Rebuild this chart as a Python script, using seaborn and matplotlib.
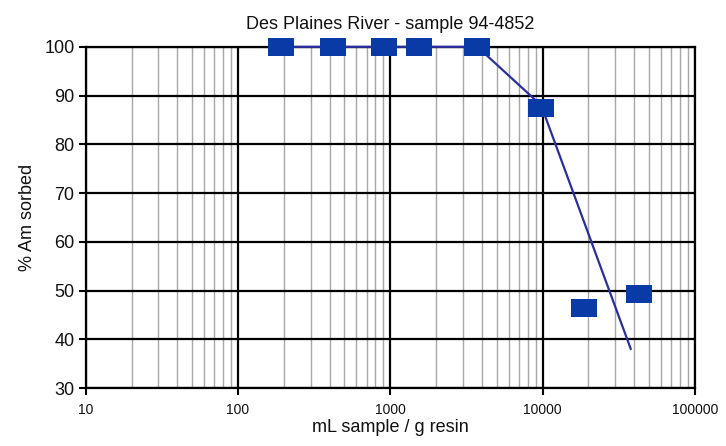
import matplotlib
matplotlib.use("Agg")
import matplotlib.pyplot as plt
import seaborn as sns
import pandas as pd
from matplotlib.path import Path
from matplotlib.ticker import LogLocator, FixedLocator, FuncFormatter

# measured points (markers)
sample_ratio = [192, 422, 914, 1552, 3736, 9800, 18600, 42900]
pct_sorbed = [100, 100, 100, 100, 100, 87.5, 46.5, 49.3]

# line drawn through the data (last segment is a trend out to ~38000)
line_ratio = [192, 422, 914, 1552, 3736, 9800, 38000]
line_pct = [100, 100, 100, 100, 100, 88, 38]

TITLE = "Des Plaines River - sample 94-4852"
XLABEL = "mL sample / g resin"
YLABEL = "% Am sorbed"

sns.set_theme(style="white")
plt.rcParams["font.family"] = ["Liberation Sans", "DejaVu Sans"]
plt.rcParams["text.color"] = "#111111"
plt.rcParams["axes.labelcolor"] = "#111111"
plt.rcParams["xtick.color"] = "#111111"
plt.rcParams["ytick.color"] = "#111111"

blue = "#0a3aa6"
# slightly wide rectangle, like the spreadsheet markers
rect = Path([(-1, -0.72), (1, -0.72), (1, 0.72), (-1, 0.72), (-1, -0.72)],
            [Path.MOVETO, Path.LINETO, Path.LINETO, Path.LINETO, Path.CLOSEPOLY])

pts = pd.DataFrame({"ratio": sample_ratio, "pct": pct_sorbed})
ln = pd.DataFrame({"ratio": line_ratio, "pct": line_pct})

fig = plt.figure(figsize=(7.26, 4.46), dpi=100)
ax = fig.add_axes([0.118, 0.130, 0.839, 0.765])

ax.set_xscale("log")
ax.set_xlim(10, 100000)
ax.set_ylim(30, 100)

sns.lineplot(data=ln, x="ratio", y="pct", ax=ax, color="#2a2fa0", lw=1.6,
             zorder=3, clip_on=False)
sns.scatterplot(data=pts, x="ratio", y="pct", ax=ax, marker=rect, s=330,
                color=blue, edgecolor=blue, linewidth=0, zorder=4, clip_on=False)

ax.xaxis.set_major_locator(LogLocator(base=10, numticks=10))
ax.xaxis.set_minor_locator(LogLocator(base=10, subs=range(2, 10), numticks=20))
ax.xaxis.set_major_formatter(FuncFormatter(lambda v, p: f"{int(round(v))}"))
ax.yaxis.set_major_locator(FixedLocator(range(30, 101, 10)))

ax.grid(True, which="major", axis="both", color="black", lw=1.6)
ax.grid(True, which="minor", axis="x", color="#a8a8a8", lw=1.0)
ax.set_axisbelow(True)

for s in ax.spines.values():
    s.set_color("black")
    s.set_linewidth(1.6)

ax.tick_params(axis="x", which="major", direction="out", length=5, width=1.5,
               color="black", labelsize=10, pad=6, bottom=True)
ax.tick_params(axis="x", which="minor", length=0)
ax.tick_params(axis="y", which="major", direction="out", length=5, width=1.5,
               color="black", labelsize=13, pad=3, left=True)

ax.set_title(TITLE, fontsize=13, pad=13)
ax.set_xlabel(XLABEL, fontsize=13, labelpad=1)
ax.set_ylabel(YLABEL, fontsize=13, labelpad=6)

fig.savefig("out.png", dpi=100)
